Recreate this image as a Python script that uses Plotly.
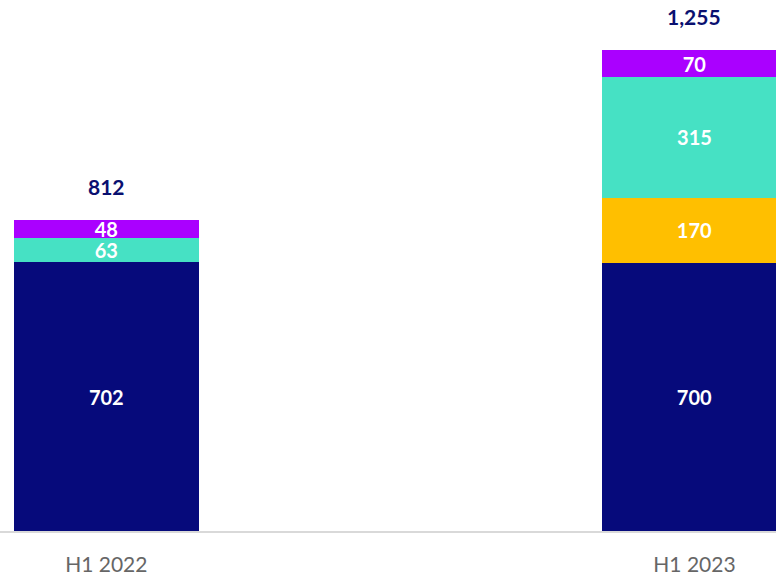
import plotly.graph_objects as go

periods = ["H1 2022", "H1 2023"]
navy_vals = [702, 700]
yellow_vals = [None, 170]
teal_vals = [63, 315]
purple_vals = [48, 70]
totals = [812, 1255]
total_labels = ["812", "1,255"]

NAVY = "#060a7b"
YELLOW = "#ffbf00"
TEAL = "#46e1c4"
PURPLE = "#aa00ff"
FONT = "Lato"

fig = go.Figure()
for vals, color in [(navy_vals, NAVY), (yellow_vals, YELLOW),
                    (teal_vals, TEAL), (purple_vals, PURPLE)]:
    fig.add_trace(go.Bar(
        x=periods, y=vals, marker=dict(color=color, line=dict(width=0)),
        text=[f"{v:,}" if v else "" for v in vals],
        textposition="inside", insidetextanchor="middle", textangle=0,
        textfont=dict(family=FONT, size=20, color="white", weight="bold"),
        cliponaxis=True, showlegend=False,
    ))

for p, t, lab in zip(periods, totals, total_labels):
    fig.add_annotation(x=p, y=t, text=f"<b>{lab}</b>", showarrow=False,
                       yanchor="bottom", yshift=19,
                       font=dict(family=FONT, size=21, color="#0a1070"))

fig.update_layout(
    barmode="stack", bargap=0.686,
    width=776, height=575,
    margin=dict(l=0, r=0, t=0, b=44),
    plot_bgcolor="white", paper_bgcolor="white",
    uniformtext=dict(minsize=20, mode="show"),
    xaxis=dict(type="category", range=[-0.1807, 1.1386],
               showline=True, linecolor="#d9d9d9", linewidth=2,
               ticks="", showgrid=False, ticklabelstandoff=14,
               tickfont=dict(family=FONT, size=21, color="#666666")),
    yaxis=dict(range=[0, 1386], visible=False, showgrid=False),
)

fig.write_html("out.html")
